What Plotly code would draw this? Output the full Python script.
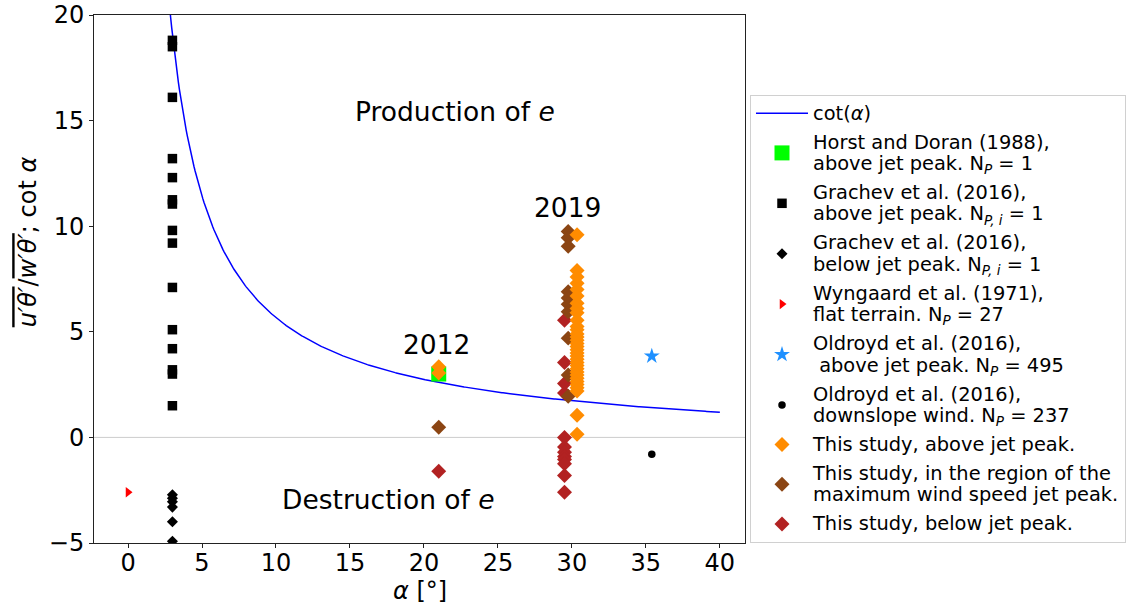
import numpy as np
import plotly.graph_objects as go

# ---- data ----
horst_alpha = [21.0]
horst_ratio = [3.0]

grachev_above_alpha = [3.0] * 15
grachev_above_ratio = [18.8, 18.5, 16.1, 13.2, 12.3, 11.25, 11.05, 9.8, 9.2, 7.1, 5.1, 4.2, 3.2, 3.0, 1.5]

grachev_below_alpha = [3.0] * 6
grachev_below_ratio = [-2.72, -2.88, -3.05, -3.3, -3.99, -4.92]

wyngaard_alpha = [0.0]
wyngaard_ratio = [-2.6]

oldroyd_above_alpha = [35.4]
oldroyd_above_ratio = [3.85]

oldroyd_down_alpha = [35.4]
oldroyd_down_ratio = [-0.8]

above_alpha = [21.0, 21.0] + [30.35] * 33
above_ratio = [3.35, 3.05,
               9.6, 7.9, 7.6, 7.3, 7.0, 6.7, 6.35, 6.1, 5.9, 5.55, 5.25, 5.1, 4.9,
               4.75, 4.6, 4.45, 4.3, 4.15, 4.0, 3.85, 3.7, 3.55, 3.4, 3.25, 3.1,
               2.95, 2.8, 2.65, 2.5, 2.35, 2.2, 1.05, 0.15]

peak_alpha = [21.0] + [29.75] * 10
peak_ratio = [0.48, 9.75, 9.45, 9.05, 6.9, 6.6, 6.3, 5.95, 4.7, 2.95, 1.95]

below_alpha = [21.0] + [29.5] * 12
below_ratio = [-1.6, 5.55, 3.55, 2.55, 2.1, 0.0, -0.45, -0.7, -0.9, -1.05, -1.25, -1.8, -2.6]

alpha_curve = np.linspace(2.5, 40, 500)
cot_curve = 1 / np.tan(np.radians(alpha_curve))

FONT = "DejaVu Sans"


def big(s):
    # legend text drawn at ~19px while line spacing follows the smaller legend font
    return "<br>".join(f"<span style='font-size:19.4px'>{part}</span>" for part in s.split("<br>"))


fig = go.Figure()

fig.add_trace(go.Scatter(x=alpha_curve, y=cot_curve, mode="lines",
                         line=dict(color="blue", width=1.5),
                         name=big("cot(<i>α</i>)"), legendgroup="g0", legendrank=1))


def pts(x, y, name, symbol, color, size, rank):
    # one legend group per trace so tracegroupgap spaces every entry
    fig.add_trace(go.Scatter(x=x, y=y, mode="markers", name=big(name), legendrank=rank,
                             legendgroup=f"g{rank}",
                             marker=dict(symbol=symbol, color=color, size=size,
                                         line=dict(width=0))))


pts(horst_alpha, horst_ratio, "Horst and Doran (1988),<br>above jet peak. N<sub><i>P</i></sub> = 1",
    "square", "#00ff00", 15, 2)
pts(grachev_above_alpha, grachev_above_ratio,
    "Grachev et al. (2016),<br>above jet peak. N<sub><i>P, i</i></sub> = 1", "square", "black", 9.5, 3)
pts(grachev_below_alpha, grachev_below_ratio,
    "Grachev et al. (2016),<br>below jet peak. N<sub><i>P, i</i></sub> = 1", "diamond", "black", 8.5, 4)
pts(wyngaard_alpha, wyngaard_ratio,
    "Wyngaard et al. (1971),<br>flat terrain. N<sub><i>P</i></sub> = 27", "triangle-right", "red", 9, 5)
pts(oldroyd_above_alpha, oldroyd_above_ratio,
    "Oldroyd et al. (2016),<br> above jet peak. N<sub><i>P</i></sub> = 495", "star", "#1e90ff", 12, 6)
pts(oldroyd_down_alpha, oldroyd_down_ratio,
    "Oldroyd et al. (2016),<br>downslope wind. N<sub><i>P</i></sub> = 237", "circle", "black", 7.5, 7)
pts(below_alpha, below_ratio, "This study, below jet peak.", "diamond", "#b22222", 11.5, 10)
pts(peak_alpha, peak_ratio,
    "This study, in the region of the<br>maximum wind speed jet peak.", "diamond", "#8b4513", 11.5, 9)
pts(above_alpha, above_ratio, "This study, above jet peak.", "diamond", "#ff8c00", 11.5, 8)

fig.add_hline(y=0, line=dict(color="#cccccc", width=1), layer="below")

notes = [(22.1, 15.45, "Production of <i>e</i>"),
         (17.6, -2.96, "Destruction of <i>e</i>"),
         (20.85, 4.42, "2012"),
         (29.7, 10.9, "2019")]
for x, y, t in notes:
    fig.add_annotation(x=x, y=y, text=t, showarrow=False,
                       font=dict(family=FONT, size=26.5, color="black"))

# axis titles as paper annotations, placed where the reference has them
fig.add_annotation(x=0.5, y=-0.091, xref="paper", yref="paper", text="<i>α</i> [°]",
                   showarrow=False, yanchor="middle",
                   font=dict(family=FONT, size=24, color="black"))
fig.add_annotation(x=-0.101, y=0.57, xref="paper", yref="paper", textangle=-90,
                   text="<span style='text-decoration:overline'><i>u′θ′</i></span>/"
                        "<span style='text-decoration:overline'><i>w′θ′</i></span>; cot <i>α</i>",
                   showarrow=False, xanchor="center", yanchor="middle",
                   font=dict(family=FONT, size=24, color="black"))

axis_common = dict(showline=True, linecolor="#222", linewidth=1, mirror=True,
                   ticks="outside", ticklen=4, tickcolor="#222", showgrid=False,
                   zeroline=False, automargin=False,
                   tickfont=dict(family=FONT, size=24, color="black"))

fig.update_xaxes(range=[-2.3, 41.7], tickvals=[0, 5, 10, 15, 20, 25, 30, 35, 40],
                 ticklabelstandoff=-6, **axis_common)
fig.update_yaxes(range=[-5, 20], tickvals=[-5, 0, 5, 10, 15, 20], **axis_common)

fig.update_layout(
    width=1131, height=606,
    margin=dict(l=94, r=386, t=15, b=63),
    plot_bgcolor="white", paper_bgcolor="white",
    font=dict(family=FONT, color="black"),
    legend=dict(xref="container", yref="container", x=750 / 1131, xanchor="left",
                y=1 - 95 / 606, yanchor="top", maxheight=480,
                bordercolor="#d0d0d0", borderwidth=1, bgcolor="white",
                font=dict(family=FONT, size=16.5, color="black"),
                traceorder="grouped", tracegroupgap=4.5,
                itemwidth=52),
)

# drop the default 8px page margin so the figure sits at the window corner
fig.write_html("out.html", config={"displayModeBar": False},
               post_script="document.body.style.margin='0';")
